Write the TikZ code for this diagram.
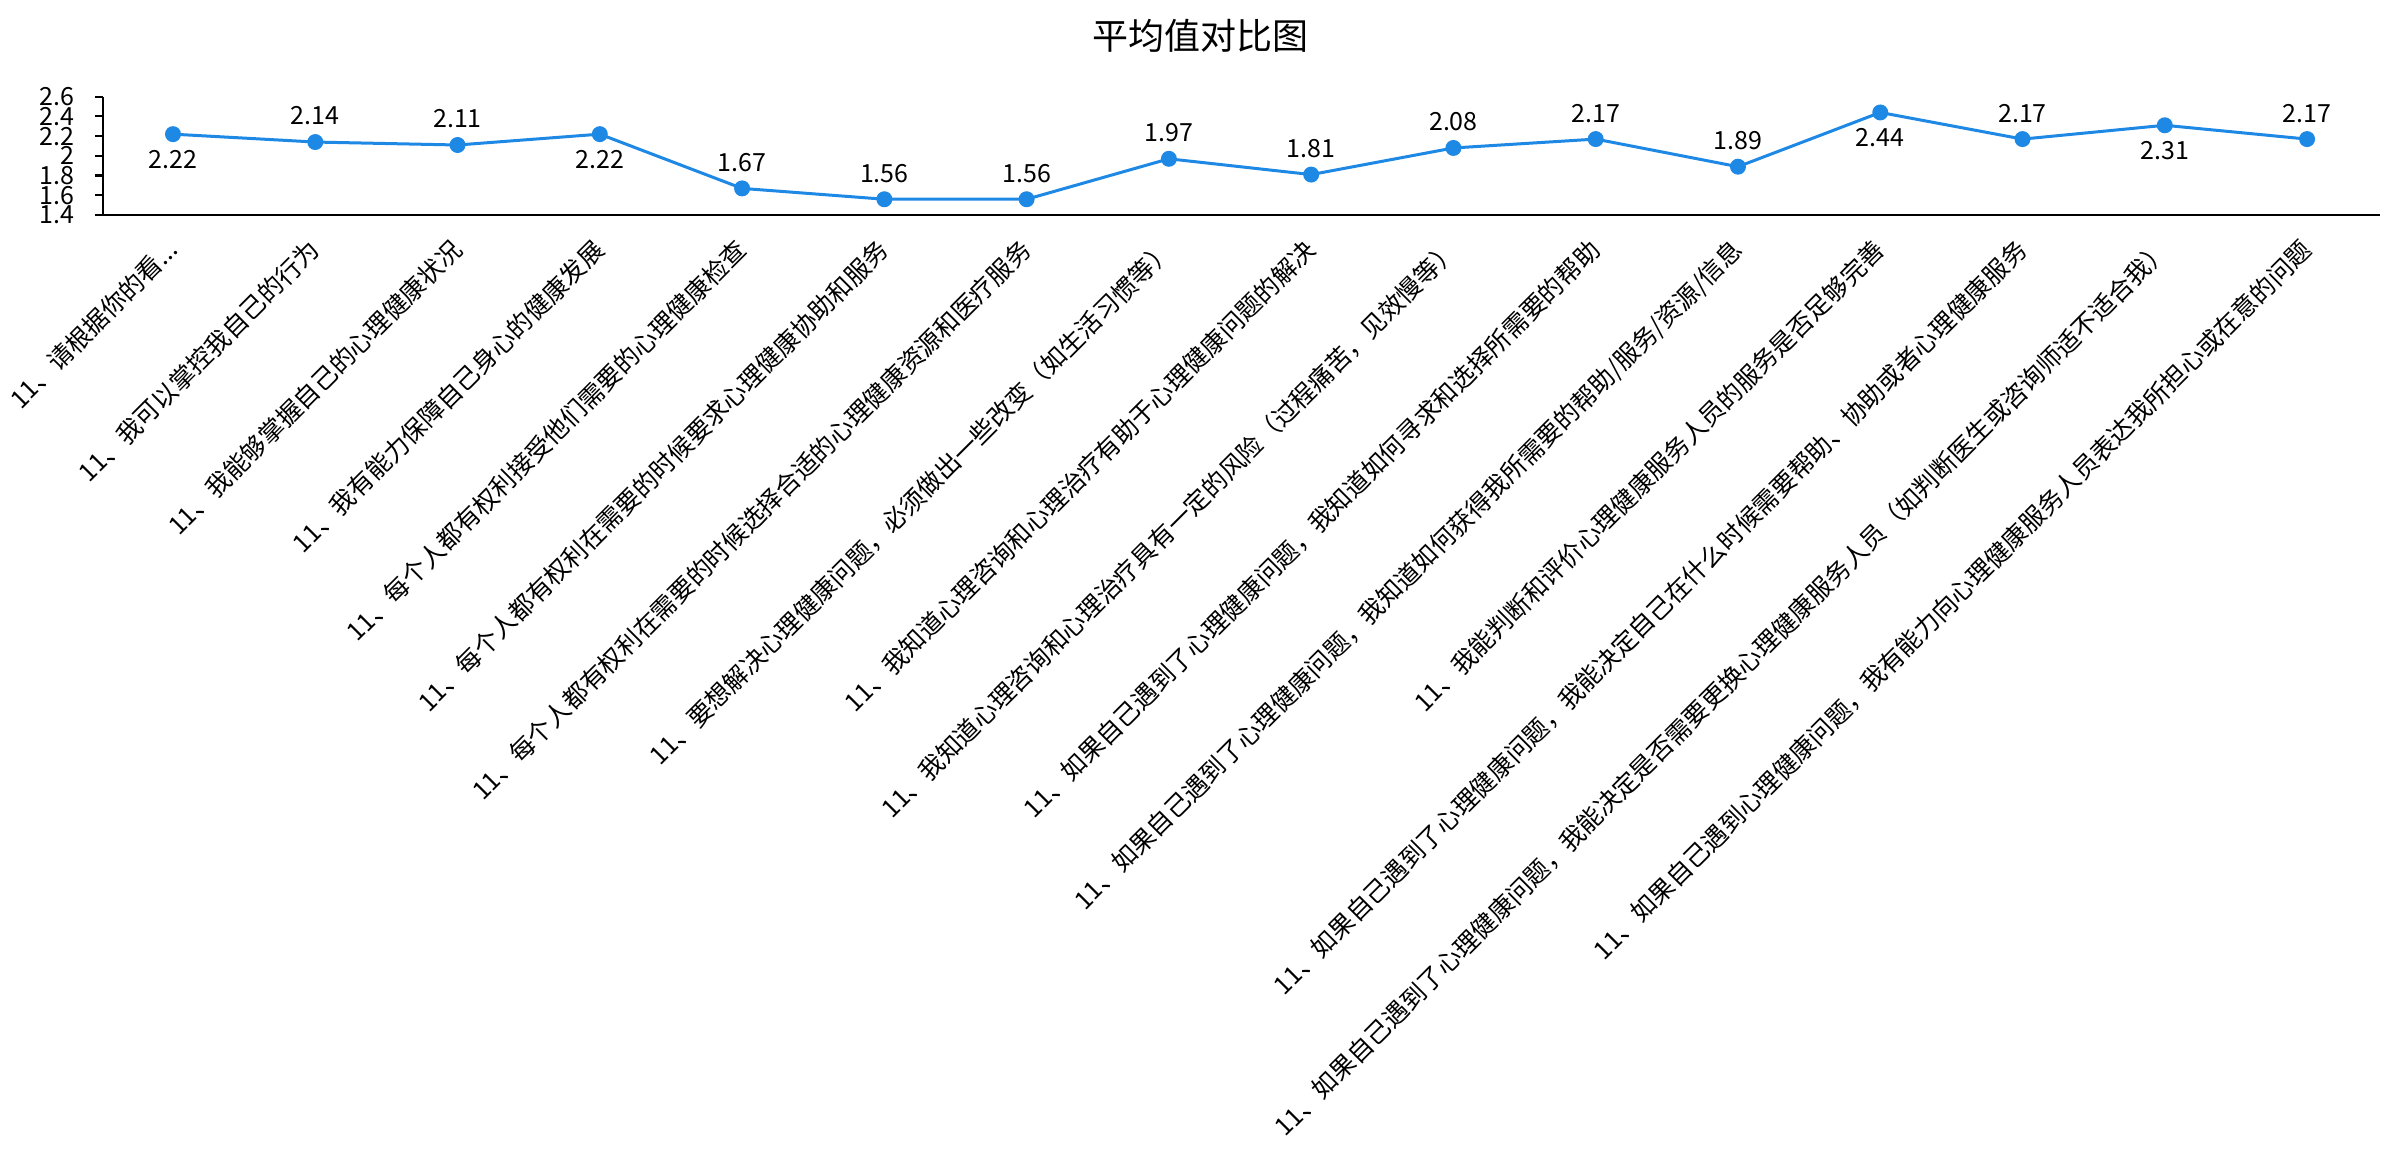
\documentclass[tikz,border=0pt]{standalone}
\usepackage{fontspec}
\setmainfont{Noto Sans CJK SC}
\usetikzlibrary{calc}
\definecolor{lineblue}{HTML}{1E88E5}
\begin{document}
\begin{tikzpicture}[x=0.3pt,y=-0.3pt,
  every node/.style={inner sep=0pt, outer sep=0pt, font=\fontsize{7.5}{9}\selectfont, text=black},
  catlabel/.style={rotate=45, anchor=north east},
  vallabel/.style={anchor=center},
  ticklabel/.style={anchor=east},
  titlelabel/.style={anchor=center, font=\fontsize{10.8}{13}\selectfont},
  marker/.style={circle, fill=lineblue, draw=none, minimum size=4.8pt, inner sep=0pt},
  spine/.style={draw=black, line width=0.65pt},
  series/.style={draw=lineblue, line width=0.9pt, line join=round}]
\useasboundingbox (0,0) rectangle (2400,1166);

% title
\node[titlelabel] (title) at (1200,35.5) {平均值对比图};

% axes
\coordinate (ytop) at (103,96.7);
\coordinate (origin) at (103,215);
\coordinate (xend) at (2380,215);
\draw[spine] (ytop) -- (origin) -- (xend);

% y ticks and labels
\foreach \v/\t [count=\k from 0] in {1.4/1.4,1.6/1.6,1.8/1.8,2.0/2,2.2/2.2,2.4/2.4,2.6/2.6}{
  \coordinate (tk\k) at (103,{215-(\v-1.4)*98.6});
  \coordinate (tl\k) at (95,{215-(\v-1.4)*98.6});
  \draw[spine] (tl\k) -- (tk\k);
  \node[ticklabel] (yl\k) at (74,{215-(\v-1.4)*98.6}) {\t};
}

% data coordinates
\foreach \v [count=\i from 0] in {2.22,2.14,2.11,2.22,1.67,1.56,1.56,1.97,1.81,2.08,2.17,1.89,2.44,2.17,2.31,2.17}{
  \coordinate (c\i) at ({173+142.27*\i},{215-(\v-1.4)*98.6});
}

% series line
\draw[series] (c0) \foreach \i in {1,...,15}{ -- (c\i)};

% markers
\foreach \i in {0,...,15}{
  \node[marker] (m\i) at (c\i) {};
}

% value labels
\foreach \v/\d [count=\i from 0] in {2.22/25,2.14/-26,2.11/-26,2.22/25,1.67/-26,1.56/-26,1.56/-26,1.97/-26,1.81/-26,2.08/-26,2.17/-26,1.89/-26,2.44/25,2.17/-26,2.31/25,2.17/-26}{
  \node[vallabel] (v\i) at ($(c\i)+(0,\d)$) {\v};
}

% category labels
\node[catlabel] (l0) at ({173+142.27*0-8.7},237) {11、请根据你的看...};
\node[catlabel] (l1) at ({173+142.27*1-8.7},237) {11、我可以掌控我自己的行为};
\node[catlabel] (l2) at ({173+142.27*2-8.7},237) {11、我能够掌握自己的心理健康状况};
\node[catlabel] (l3) at ({173+142.27*3-8.7},237) {11、我有能力保障自己身心的健康发展};
\node[catlabel] (l4) at ({173+142.27*4-8.7},237) {11、每个人都有权利接受他们需要的心理健康检查};
\node[catlabel] (l5) at ({173+142.27*5-8.7},237) {11、每个人都有权利在需要的时候要求心理健康协助和服务};
\node[catlabel] (l6) at ({173+142.27*6-8.7},237) {11、每个人都有权利在需要的时候选择合适的心理健康资源和医疗服务};
\node[catlabel] (l7) at ({173+142.27*7-8.7},237) {11、要想解决心理健康问题，必须做出一些改变（如生活习惯等）};
\node[catlabel] (l8) at ({173+142.27*8-8.7},237) {11、我知道心理咨询和心理治疗有助于心理健康问题的解决};
\node[catlabel] (l9) at ({173+142.27*9-8.7},237) {11、我知道心理咨询和心理治疗具有一定的风险（过程痛苦，见效慢等）};
\node[catlabel] (l10) at ({173+142.27*10-8.7},237) {11、如果自己遇到了心理健康问题，我知道如何寻求和选择所需要的帮助};
\node[catlabel] (l11) at ({173+142.27*11-8.7},237) {11、如果自己遇到了心理健康问题，我知道如何获得我所需要的帮助/服务/资源/信息};
\node[catlabel] (l12) at ({173+142.27*12-8.7},237) {11、我能判断和评价心理健康服务人员的服务是否足够完善};
\node[catlabel] (l13) at ({173+142.27*13-8.7},237) {11、如果自己遇到了心理健康问题，我能决定自己在什么时候需要帮助、协助或者心理健康服务};
\node[catlabel] (l14) at ({173+142.27*14-8.7},237) {11、如果自己遇到了心理健康问题，我能决定是否需要更换心理健康服务人员（如判断医生或咨询师适不适合我）};
\node[catlabel] (l15) at ({173+142.27*15-8.7},237) {11、如果自己遇到心理健康问题，我有能力向心理健康服务人员表达我所担心或在意的问题};
\end{tikzpicture}
\end{document}
